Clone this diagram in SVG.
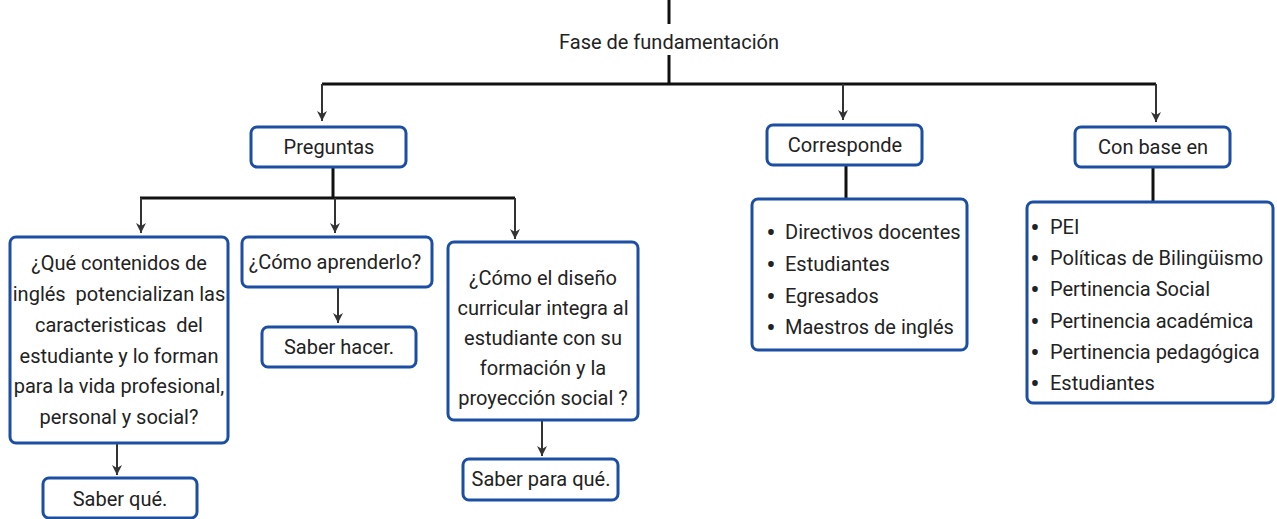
<svg xmlns="http://www.w3.org/2000/svg" width="1277" height="519" viewBox="0 0 1277 519">
<style>
text{font-family:Roboto,"Liberation Sans",sans-serif;font-size:20px;fill:#222;white-space:pre}
.c{text-anchor:middle}
.b{font-size:28px;text-anchor:middle}
.box{fill:#fff;stroke:#1c4fa4;stroke-width:3}
.ln{stroke:#111;stroke-width:3;fill:none}
.ar{stroke:#333;stroke-width:2;fill:none;marker-end:url(#ah)}
</style>
<defs>
<marker id="ah" viewBox="0 0 10 10" refX="10" refY="5" markerWidth="10" markerHeight="10" markerUnits="userSpaceOnUse" orient="auto">
<path d="M0,0 L10,5 L0,10 L3,5 z" fill="#333"/>
</marker>
</defs>
<rect width="1277" height="519" fill="#fff"/>
<g id="connectors">
<path class="ln" d="M669,0 V24 M669,55 V84 M322,84 H1156"/>
<path class="ar" d="M322,84 V121"/>
<path class="ar" d="M843,84 V120"/>
<path class="ar" d="M1156,84 V122"/>
<path class="ln" d="M333,167 V198 M140,198 H515"/>
<path class="ar" d="M141,198 V233"/>
<path class="ar" d="M335,198 V233"/>
<path class="ar" d="M515,198 V239"/>
<path class="ar" d="M117,443 V475"/>
<path class="ar" d="M338,287 V323"/>
<path class="ar" d="M542,420 V456"/>
<path class="ln" d="M846,165 V199 M1153,167 V202"/>
</g>
<g id="fase"><text class="c" x="669" y="49">Fase de fundamentación</text></g>
<g id="preguntas"><rect class="box" x="251" y="127" width="155" height="40" rx="6"/><text class="c" x="329" y="154">Preguntas</text></g>
<g id="corresponde"><rect class="box" x="767" y="125" width="155" height="40" rx="6"/><text class="c" x="845" y="152">Corresponde</text></g>
<g id="conbase"><rect class="box" x="1075" y="127" width="155" height="40" rx="6"/><text class="c" x="1153" y="154">Con base en</text></g>
<g id="q1"><rect class="box" x="10" y="237" width="218" height="206" rx="6"/>
<text class="c" x="119" y="270">¿Qué contenidos de</text>
<text class="c" x="119" y="301">inglés  potencializan las</text>
<text class="c" x="119" y="332">caracteristicas  del</text>
<text class="c" x="119" y="363">estudiante y lo forman</text>
<text class="c" x="119" y="393">para la vida profesional,</text>
<text class="c" x="119" y="424">personal y social?</text></g>
<g id="saberque"><rect class="box" x="43" y="478" width="154" height="40" rx="6"/><text class="c" x="120" y="506">Saber qué.</text></g>
<g id="q2"><rect class="box" x="242" y="237" width="190" height="50" rx="6"/><text class="c" x="335" y="269">¿Cómo aprenderlo?</text></g>
<g id="saberhacer"><rect class="box" x="262" y="327" width="154" height="40" rx="6"/><text class="c" x="339" y="354">Saber hacer.</text></g>
<g id="q3"><rect class="box" x="448" y="242" width="190" height="178" rx="6"/>
<text class="c" x="543" y="285">¿Cómo el diseño</text>
<text class="c" x="543" y="315">curricular integra al</text>
<text class="c" x="543" y="345">estudiante con su</text>
<text class="c" x="543" y="375">formación y la</text>
<text class="c" x="543" y="405">proyección social ?</text></g>
<g id="saberparaque"><rect class="box" x="463" y="459" width="155" height="41" rx="6"/><text class="c" x="541" y="486">Saber para qué.</text></g>
<g id="lista1"><rect class="box" x="752" y="199" width="215" height="151" rx="6"/>
<text class="b" x="771" y="242">•</text><text x="785" y="239">Directivos docentes</text>
<text class="b" x="771" y="274">•</text><text x="785" y="271">Estudiantes</text>
<text class="b" x="771" y="306">•</text><text x="785" y="303">Egresados</text>
<text class="b" x="771" y="337">•</text><text x="785" y="334">Maestros de inglés</text></g>
<g id="lista2"><rect class="box" x="1027" y="202" width="246" height="201" rx="6"/>
<text class="b" x="1035" y="237">•</text><text x="1050" y="234">PEI</text>
<text class="b" x="1035" y="268">•</text><text x="1050" y="265">Políticas de Bilingüismo</text>
<text class="b" x="1035" y="299">•</text><text x="1050" y="296">Pertinencia Social</text>
<text class="b" x="1035" y="331">•</text><text x="1050" y="328">Pertinencia académica</text>
<text class="b" x="1035" y="362">•</text><text x="1050" y="359">Pertinencia pedagógica</text>
<text class="b" x="1035" y="393">•</text><text x="1050" y="390">Estudiantes</text></g>
</svg>
